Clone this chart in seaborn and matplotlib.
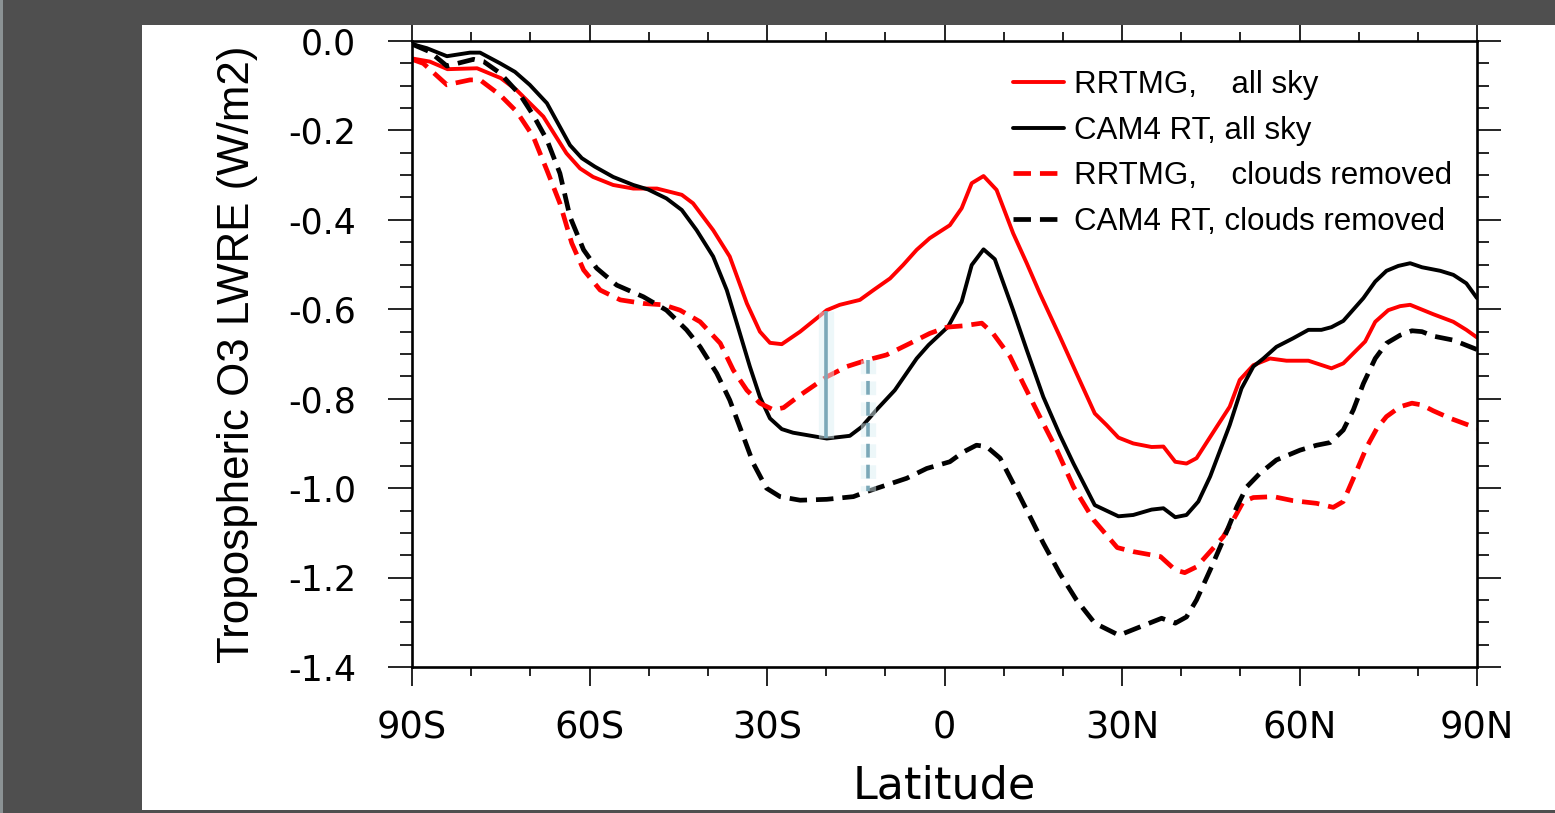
import numpy as np
import pandas as pd
import matplotlib
matplotlib.use("Agg")
import matplotlib.pyplot as plt
import matplotlib.patheffects as pe
from matplotlib.patches import Rectangle
from matplotlib.ticker import FixedLocator, MultipleLocator
import seaborn as sns

# Zonal-mean tropospheric O3 longwave radiative effect (W/m2) by latitude
rrtmg_all_lat = [-90, -87, -84, -79, -75, -72.3, -67.8, -63.9, -61.6, -59.4, -56, -52.6, -48.6,
                 -44.4, -42.5, -39.1, -36.3, -33.4, -31.2, -29.5, -27.5, -24.4, -19.9, -17.7,
                 -14.3, -12, -9.2, -7, -4.7, -2.5, 0.9, 2.9, 4.6, 6.6, 8.8, 11.6, 13.9, 16.1,
                 19.5, 22.3, 25.4, 27.4, 29.4, 31.9, 35, 37, 39, 40.9, 42.6, 46, 48.2, 49.9,
                 52.2, 55, 57.8, 61.5, 65.4, 67.4, 71.1, 72.8, 75, 77, 78.7, 82.6, 86, 88.2, 90]
rrtmg_all_val = [-0.039, -0.046, -0.063, -0.061, -0.083, -0.110, -0.169, -0.251, -0.285, -0.304,
                 -0.322, -0.330, -0.330, -0.344, -0.363, -0.423, -0.482, -0.587, -0.650, -0.675,
                 -0.678, -0.650, -0.602, -0.590, -0.579, -0.557, -0.531, -0.501, -0.467, -0.441,
                 -0.412, -0.374, -0.318, -0.302, -0.333, -0.430, -0.497, -0.564, -0.661, -0.743,
                 -0.833, -0.859, -0.887, -0.900, -0.908, -0.907, -0.941, -0.945, -0.933, -0.863,
                 -0.818, -0.758, -0.725, -0.710, -0.715, -0.715, -0.732, -0.721, -0.672, -0.628,
                 -0.602, -0.593, -0.590, -0.611, -0.628, -0.646, -0.663]

cam4_all_lat = [-90, -87.5, -84.1, -80.2, -78.5, -75.1, -72.6, -70.1, -67.2, -65.5, -63.3, -61.3,
                -59.1, -56, -52.6, -50.1, -47, -44.4, -41.9, -39.1, -36.8, -35.1, -32.9, -31.2,
                -29.5, -27.5, -25.6, -19.9, -16, -14, -11.5, -8.4, -4.7, -2.7, 0.6, 2.9, 4.6,
                6.6, 8.5, 11.6, 13.9, 16.7, 19.5, 21.8, 25.4, 29.4, 31.9, 35, 37, 39, 40.9, 42.9,
                44.9, 48.2, 50.2, 52.2, 53.9, 56.1, 58.9, 61.5, 63.7, 65.4, 67.4, 70.8, 72.8,
                74.7, 76.7, 78.7, 80.7, 83.8, 86, 88.2, 90]
cam4_all_val = [-0.007, -0.016, -0.034, -0.026, -0.026, -0.050, -0.069, -0.098, -0.139, -0.180,
                -0.233, -0.262, -0.281, -0.304, -0.322, -0.332, -0.352, -0.378, -0.423, -0.482,
                -0.557, -0.631, -0.728, -0.796, -0.844, -0.868, -0.876, -0.889, -0.883, -0.863,
                -0.825, -0.781, -0.710, -0.680, -0.639, -0.583, -0.501, -0.466, -0.488, -0.602,
                -0.691, -0.796, -0.881, -0.945, -1.038, -1.063, -1.060, -1.048, -1.045, -1.065,
                -1.060, -1.030, -0.974, -0.859, -0.777, -0.728, -0.710, -0.684, -0.665, -0.646,
                -0.646, -0.640, -0.626, -0.575, -0.538, -0.514, -0.503, -0.497, -0.506, -0.514,
                -0.523, -0.542, -0.575]

rrtmg_clr_lat = [-90, -88.1, -84.1, -80.2, -78.5, -75.1, -72.3, -69.5, -67.2, -65, -63, -61,
                 -58.2, -54.8, -50.9, -47.5, -44.7, -41.3, -37.9, -35.7, -33.4, -31.2, -28.9,
                 -27.2, -24.4, -19.9, -16.5, -13.2, -9.8, -5.8, -2.5, 0.4, 3.2, 6.3, 8.2, 11.1,
                 13.3, 16.1, 19, 21.8, 25.2, 29.2, 31.9, 36.5, 39, 40.6, 42.6, 44.9, 47.1, 48.8,
                 50.5, 52.2, 55.6, 58.9, 62.9, 65.7, 67.4, 69.7, 71.4, 73.1, 74.7, 77, 79, 80.7,
                 82.6, 85.5, 90]
rrtmg_clr_val = [-0.041, -0.050, -0.098, -0.087, -0.087, -0.121, -0.158, -0.214, -0.289, -0.363,
                 -0.452, -0.512, -0.557, -0.579, -0.587, -0.590, -0.602, -0.628, -0.676, -0.736,
                 -0.781, -0.810, -0.825, -0.820, -0.792, -0.751, -0.728, -0.714, -0.702, -0.676,
                 -0.654, -0.640, -0.637, -0.631, -0.654, -0.706, -0.766, -0.840, -0.915, -0.997,
                 -1.071, -1.133, -1.142, -1.153, -1.183, -1.189, -1.176, -1.142, -1.109, -1.071,
                 -1.030, -1.021, -1.019, -1.028, -1.034, -1.043, -1.030, -0.960, -0.907, -0.866,
                 -0.840, -0.818, -0.810, -0.814, -0.827, -0.844, -0.866]

cam4_clr_lat = [-90, -87, -84.1, -79.6, -77.9, -75.1, -71.7, -69.5, -67.2, -65, -63.3, -61,
                -58.8, -55.4, -50.9, -47, -43.6, -41.3, -38.5, -36.3, -34.6, -32.3, -30.1, -27.8,
                -24.4, -19.9, -15.4, -13.2, -9.8, -6.4, -3, 0.9, 3.2, 5.4, 7.1, 9.4, 11.6, 13.9,
                16.7, 19.5, 22.3, 25.4, 29.5, 33.1, 36.7, 39, 40.9, 42.6, 44.9, 47.1, 49.4, 51.1,
                53.3, 56.1, 60.1, 62.9, 65.2, 67.4, 69.1, 70.8, 72.8, 74.7, 77, 79, 80.7, 82.6,
                86, 90]
cam4_clr_val = [-0.007, -0.024, -0.056, -0.041, -0.046, -0.072, -0.121, -0.166, -0.221, -0.296,
                -0.393, -0.467, -0.508, -0.546, -0.572, -0.602, -0.646, -0.684, -0.743, -0.803,
                -0.863, -0.945, -1.000, -1.019, -1.027, -1.025, -1.019, -1.008, -0.993, -0.978,
                -0.956, -0.941, -0.919, -0.904, -0.907, -0.933, -0.989, -1.049, -1.123, -1.191,
                -1.250, -1.302, -1.329, -1.310, -1.291, -1.302, -1.288, -1.250, -1.183, -1.116,
                -1.042, -0.997, -0.967, -0.937, -0.915, -0.904, -0.898, -0.870, -0.825, -0.766,
                -0.710, -0.676, -0.658, -0.648, -0.650, -0.660, -0.669, -0.690]

series_labels = ["RRTMG,    all sky", "CAM4 RT, all sky",
                 "RRTMG,    clouds removed", "CAM4 RT, clouds removed"]

# Latitudes of the two difference bars (all sky, clouds removed)
bar_all_lat = -20.0
bar_clr_lat = -13.0

xtick_pos = [-90, -60, -30, 0, 30, 60, 90]
xtick_labels = ["90S", "60S", "30S", "0", "30N", "60N", "90N"]
ytick_pos = [0.0, -0.2, -0.4, -0.6, -0.8, -1.0, -1.2, -1.4]
ytick_labels = ["0.0", "-0.2", "-0.4", "-0.6", "-0.8", "-1.0", "-1.2", "-1.4"]

sns.set_theme(style="ticks")
plt.rcParams["font.family"] = ["Liberation Sans", "DejaVu Sans"]

W, H = 1555, 813
fig = plt.figure(figsize=(W / 100, H / 100), dpi=100)
fig.patch.set_facecolor("white")
ax = fig.add_axes([412 / W, 1 - 667 / H, 1065 / W, 626 / H])
ax.set_facecolor("white")

series = [
    (rrtmg_all_lat, rrtmg_all_val, "#ff0000", None, 2.8),
    (cam4_all_lat, cam4_all_val, "#000000", None, 2.8),
    (rrtmg_clr_lat, rrtmg_clr_val, "#ff0000", (3.7, 1.9), 3.4),
    (cam4_clr_lat, cam4_clr_val, "#000000", (3.7, 1.9), 3.4),
]
handles = []
for (lat, val, col, dash, lw), lab in zip(series, series_labels):
    df = pd.DataFrame({"lat": lat, "val": val})
    n0 = len(ax.lines)
    sns.lineplot(data=df, x="lat", y="val", color=col, linewidth=lw, sort=False,
                 estimator=None, ax=ax, legend=False)
    line = ax.lines[n0]
    line.set_solid_joinstyle("round")
    if dash is not None:
        line.set_dashes(dash)
        line.set_dash_capstyle("butt")
    handles.append(line)

# Vertical bars spanning RRTMG to CAM4 values
glow = [pe.Stroke(linewidth=11, foreground="#dcf0f5", alpha=0.5), pe.Normal()]
top_all = np.interp(bar_all_lat, rrtmg_all_lat, rrtmg_all_val)
bot_all = np.interp(bar_all_lat, cam4_all_lat, cam4_all_val)
top_clr = np.interp(bar_clr_lat, rrtmg_clr_lat, rrtmg_clr_val)
bot_clr = np.interp(bar_clr_lat, cam4_clr_lat, cam4_clr_val)
ax.plot([bar_all_lat, bar_all_lat], [top_all, bot_all], color="#7ba8b8", lw=2.6,
        solid_capstyle="butt", zorder=6, path_effects=glow)
bl = ax.plot([bar_clr_lat, bar_clr_lat], [top_clr, bot_clr], color="#7ba8b8", lw=2.6,
             dash_capstyle="butt", zorder=6, path_effects=glow)[0]
bl.set_dashes((3.8, 2.0))

ax.set_xlim(-90, 90)
ax.set_ylim(-1.4, 0.0)
ax.xaxis.set_major_locator(FixedLocator(xtick_pos))
ax.set_xticklabels(xtick_labels)
ax.xaxis.set_minor_locator(MultipleLocator(10))
ax.yaxis.set_major_locator(FixedLocator(ytick_pos))
ax.set_yticklabels(ytick_labels)
ax.yaxis.set_minor_locator(MultipleLocator(0.05))

for s in ax.spines.values():
    s.set_visible(True)
    s.set_linewidth(1.9)
    s.set_color("black")

ax.tick_params(axis="both", which="both", direction="out", top=True, right=True,
               labeltop=False, labelright=False, color="black", width=1.2)
ax.tick_params(axis="y", which="major", length=17.3, pad=23)
ax.tick_params(axis="y", which="minor", length=8.6)
ax.tick_params(axis="x", which="major", length=13.7, pad=17)
ax.tick_params(axis="x", which="minor", length=6.5)
for t in ax.get_yticklabels():
    t.set_fontfamily(["DejaVu Sans"])
    t.set_fontsize(25)
    t.set_color("black")
for t in ax.get_xticklabels():
    t.set_fontfamily(["DejaVu Sans"])
    t.set_fontsize(26.5)
    t.set_color("black")

ax.set_xlabel("Latitude", fontsize=32, family=["DejaVu Sans"], color="black")
ax.xaxis.set_label_coords(0.5, -0.156)
ax.set_ylabel("Tropospheric O3 LWRE (W/m2)", fontsize=31.6, family=["Liberation Sans"],
              color="black")
ax.yaxis.set_label_coords(-0.145, 0.5)

leg = ax.legend(handles, series_labels, loc="upper left",
                bbox_to_anchor=((1013 - 412) / 1065, (667 - 70) / 626),
                frameon=False, fontsize=22.5, handlelength=1.62, handletextpad=0.33,
                labelspacing=0.5, borderpad=0, borderaxespad=0)
for t in leg.get_texts():
    t.set_color("black")

# Dark surround
frame_col = "#4f4f4f"
for (x0, y0, w, h) in [(0, 0, 142, H), (0, 0, W, 25), (0, 810, W, 3)]:
    fig.add_artist(Rectangle((x0 / W, 1 - (y0 + h) / H), w / W, h / H,
                             transform=fig.transFigure, facecolor=frame_col,
                             edgecolor="none", zorder=20))
fig.add_artist(Rectangle((0, 0), 3 / W, 1, transform=fig.transFigure,
                         facecolor="#8b9294", edgecolor="none", zorder=21))

fig.savefig("out.png", dpi=100, facecolor=fig.get_facecolor())
